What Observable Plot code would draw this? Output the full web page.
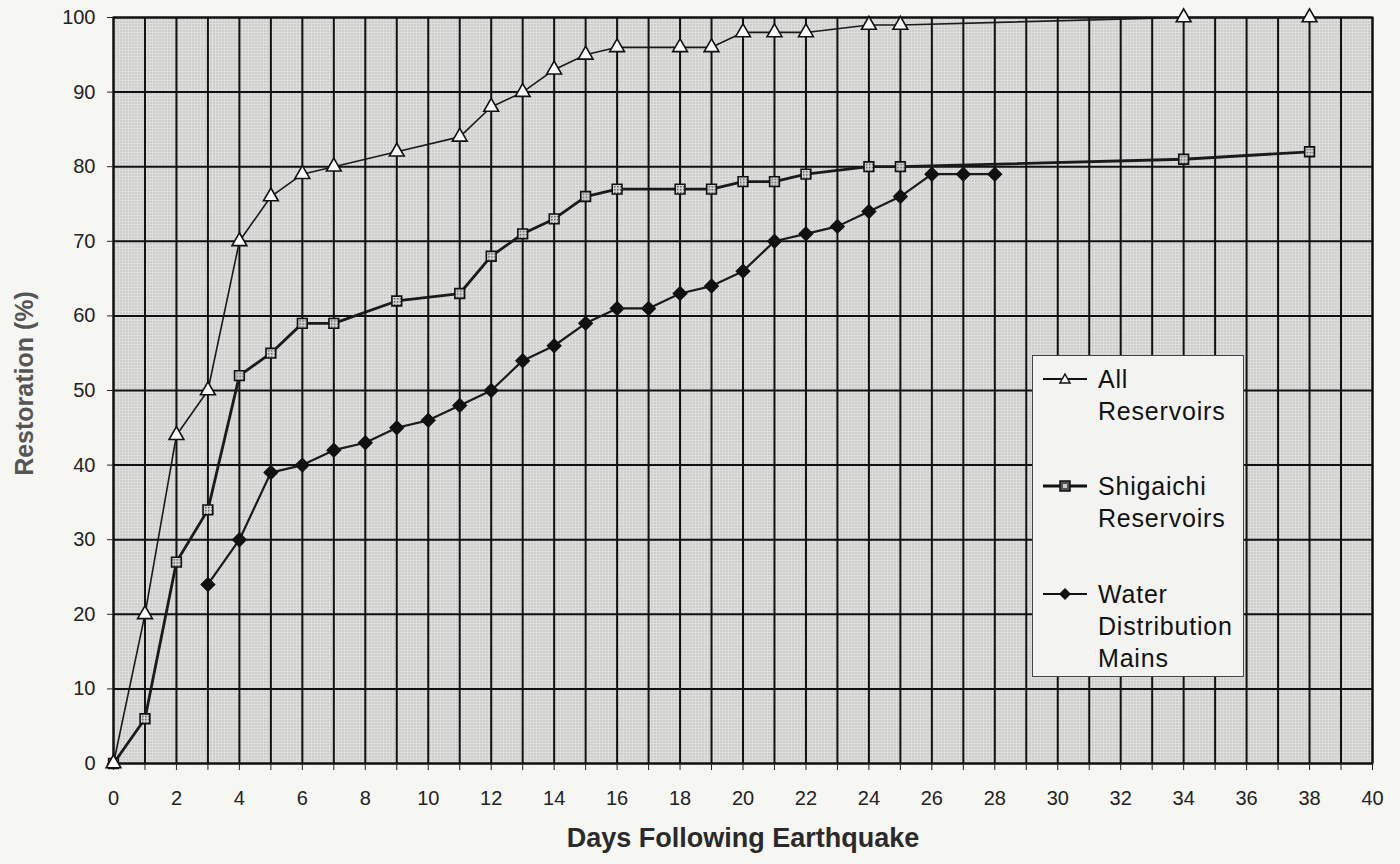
<!DOCTYPE html>
<html>
<head>
<meta charset="utf-8">
<script src="https://cdn.jsdelivr.net/npm/d3@7"></script>
<script src="https://cdn.jsdelivr.net/npm/@observablehq/plot@0.6"></script>
<style>
  html, body { margin: 0; padding: 0; background: #f6f6f3; overflow: hidden; }
  #wrap { position: relative; width: 1400px; height: 864px; }
  svg { font-family: "Liberation Sans", Arial, sans-serif; }
  .legend {
    position: absolute; left: 1032px; top: 355px; width: 212px; height: 322px;
    background: #f3f3f1; border: 1px solid #444; box-sizing: border-box;
    font-family: "Liberation Sans", Arial, sans-serif; font-size: 25px; color: #111;
  }
  .entry { position: absolute; left: 10px; display: flex; align-items: flex-start; }
  .entry svg { flex: none; margin-top: 6px; }
  .entry div { margin-left: 11px; line-height: 32px; letter-spacing: 0.8px; }
</style>
</head>
<body>
<div id="wrap"></div>
<script>
const daysAll = [0,1,2,3,4,5,6,7,9,11,12,13,14,15,16,18,19,20,21,22,24,25,34,38];
const allReservoirs = [0,20,44,50,70,76,79,80,82,84,88,90,93,95,96,96,96,98,98,98,99,99,100,100];
const shigaichiReservoirs = [0,6,27,34,52,55,59,59,62,63,68,71,73,76,77,77,77,78,78,79,80,80,81,82];
const daysMains = [3,4,5,6,7,8,9,10,11,12,13,14,15,16,17,18,19,20,21,22,23,24,25,26,27,28];
const waterMains = [24,30,39,40,42,43,45,46,48,50,54,56,59,61,61,63,64,66,70,71,72,74,76,79,79,79];
const xTicks = d3.range(0, 41);
const yTicks = d3.range(0, 101, 10);
const seriesNames = ["All Reservoirs", "Shigaichi Reservoirs", "Water Distribution Mains"];

const allData = daysAll.map((d, i) => ({day: d, v: allReservoirs[i]}));
const shiData = daysAll.map((d, i) => ({day: d, v: shigaichiReservoirs[i]}));
const mainsData = daysMains.map((d, i) => ({day: d, v: waterMains[i]}));

const chart = Plot.plot({
  width: 1400, height: 864,
  marginLeft: 113, marginRight: 28, marginTop: 17, marginBottom: 101,
  style: {background: "transparent", fontSize: "20px", color: "#222"},
  x: {domain: [0, 40], ticks: xTicks, label: null},
  y: {domain: [0, 100], ticks: yTicks, label: null},
  marks: [
    Plot.frame({fill: "url(#halftone)", stroke: "none"}),
    Plot.gridX(xTicks, {stroke: "#111", strokeOpacity: 1, strokeWidth: 2}),
    Plot.gridY(yTicks, {stroke: "#111", strokeOpacity: 1, strokeWidth: 2}),
    Plot.frame({stroke: "#111", strokeWidth: 2}),
    Plot.axisX(xTicks, {tickSize: 7, tickPadding: 20, stroke: "#222", fontSize: 20, label: null,
      tickFormat: d => d % 2 === 0 ? String(d) : ""}),
    Plot.axisY(yTicks, {tickSize: 6, tickPadding: 12, stroke: "#222", fontSize: 20, label: null}),
    Plot.text([seriesNames[0]], {text: () => "Days Following Earthquake", frameAnchor: "bottom", dy: 83,
      textAnchor: "middle", fontSize: 27, fontWeight: "bold", fill: "#2a2a2a"}),
    Plot.text([seriesNames[0]], {text: () => "Restoration (%)", frameAnchor: "left", dx: -89, dy: -7, rotate: -90,
      textAnchor: "middle", fontSize: 25, fontWeight: "bold", fill: "#555"}),
    Plot.line(mainsData, {x: "day", y: "v", stroke: "#1a1a1a", strokeWidth: 2.2}),
    Plot.line(shiData, {x: "day", y: "v", stroke: "#1a1a1a", strokeWidth: 2.8}),
    Plot.line(allData, {x: "day", y: "v", stroke: "#1a1a1a", strokeWidth: 1.6}),
    Plot.dot(mainsData, {x: "day", y: "v", symbol: "diamond2", r: 6, fill: "#111", stroke: "#111"}),
    Plot.dot(shiData, {x: "day", y: "v", symbol: "square", r: 5.5, fill: "url(#sqfill)", stroke: "#111", strokeWidth: 1.6}),
    Plot.dot(allData, {x: "day", y: "v", symbol: "triangle", r: 5.5, fill: "#fafafa", stroke: "#111", strokeWidth: 1.6})
  ]
});

// patterns for the halftone background and the square markers
const ns = "http://www.w3.org/2000/svg";
const defs = document.createElementNS(ns, "defs");
defs.innerHTML = `
  <pattern id="halftone" width="3" height="3" patternUnits="userSpaceOnUse">
    <rect width="3" height="3" fill="#e7e7e5"/>
    <rect x="0" y="0" width="1" height="1" fill="#8a8a8a"/>
    <rect x="1.5" y="1.5" width="1" height="1" fill="#b2b2b2"/>
  </pattern>
  <pattern id="sqfill" width="3" height="3" patternUnits="userSpaceOnUse">
    <rect width="3" height="3" fill="#d8d8d8"/>
    <rect x="0" y="0" width="1.5" height="1.5" fill="#555"/>
  </pattern>`;
chart.insertBefore(defs, chart.firstChild);
document.getElementById("wrap").appendChild(chart);

// legend
const legend = document.createElement("div");
legend.className = "legend";
const sym = {
  "All Reservoirs": `<polygon points="22,5 27,14 17,14" fill="#fafafa" stroke="#111" stroke-width="1.5"/>`,
  "Shigaichi Reservoirs": `<rect x="17" y="5" width="10" height="10" fill="#555" stroke="#111" stroke-width="1.5"/><rect x="20" y="8" width="4" height="4" fill="#ccc"/>`,
  "Water Distribution Mains": `<polygon points="22,4 28,10 22,16 16,10" fill="#111"/>`
};
const widths = {"All Reservoirs": 1.8, "Shigaichi Reservoirs": 3, "Water Distribution Mains": 2.2};
const lines = {"All Reservoirs": ["All", "Reservoirs"], "Shigaichi Reservoirs": ["Shigaichi", "Reservoirs"], "Water Distribution Mains": ["Water", "Distribution", "Mains"]};
const tops = [7, 114, 222];
seriesNames.forEach((name, i) => {
  const e = document.createElement("div");
  e.className = "entry";
  e.style.top = tops[i] + "px";
  e.innerHTML = `<svg width="44" height="20"><line x1="0" x2="44" y1="10" y2="10" stroke="#111" stroke-width="${widths[name]}"/>${sym[name]}</svg><div>${lines[name].join("<br>")}</div>`;
  legend.appendChild(e);
});
document.getElementById("wrap").appendChild(legend);
</script>
</body>
</html>
